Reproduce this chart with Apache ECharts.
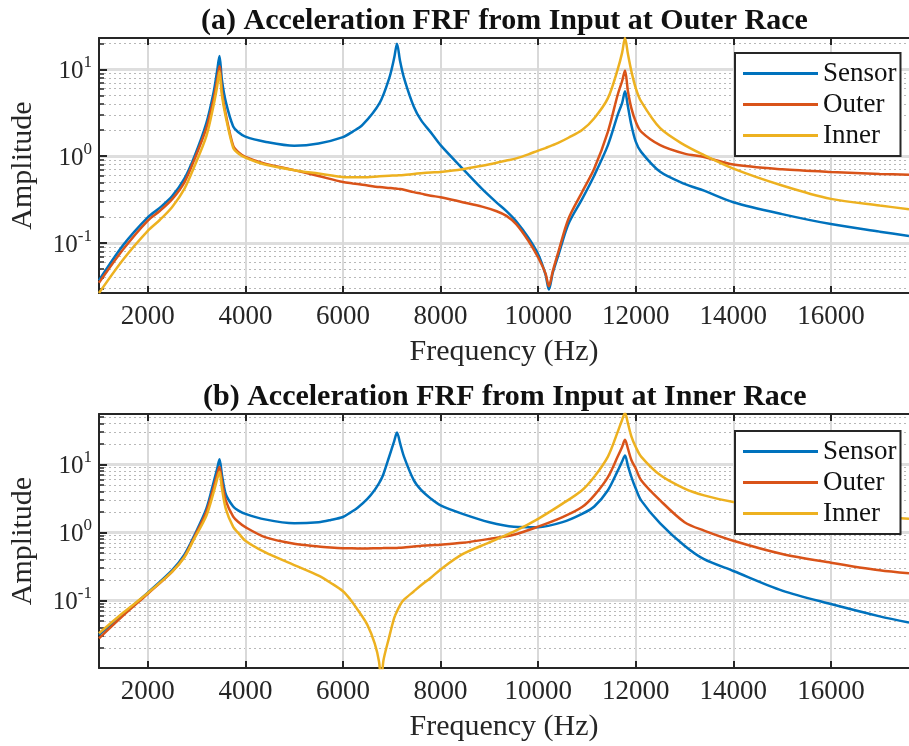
<!DOCTYPE html>
<html><head><meta charset="utf-8">
<script src="https://cdn.jsdelivr.net/npm/echarts@6/dist/echarts.min.js"></script>
<style>html,body{margin:0;padding:0;background:#fff}#c{width:909px;height:746px}</style>
</head><body><div id="c"></div>
<script>
// ---------- data (a): input at outer race ----------
const freqA = [1000,1500,2000,2250,2500,2750,2950,3200,3350,3420,3469,3520,3600,3750,3850,4000,4400,5000,5500,6000,6200,6400,6750,6950,7050,7107,7170,7250,7450,7600,7800,8000,8450,8850,9150,9350,9550,9800,10000,10150,10220,10300,10420,10620,10900,11150,11430,11630,11720,11780,11840,11910,12000,12110,12500,13000,13400,14000,15000,16000,17000,17600];
const sensorA = [0.037,0.095,0.197,0.255,0.346,0.55,0.97,2.4,5.5,9.5,14.3,7.5,4.2,2.2,1.9,1.68,1.47,1.32,1.40,1.66,1.92,2.29,4.09,8.0,13.6,19.8,12.5,8.0,3.74,2.6,1.88,1.34,0.72,0.42,0.292,0.233,0.178,0.115,0.074,0.0434,0.029,0.0454,0.074,0.165,0.32,0.60,1.34,2.99,4.09,5.59,3.74,2.29,1.47,1.12,0.66,0.48,0.40,0.295,0.215,0.165,0.135,0.12];
const outerA = [0.0347,0.085,0.181,0.235,0.32,0.50,0.90,2.1,4.6,7.5,10.9,5.5,3.0,1.32,1.12,0.98,0.82,0.69,0.59,0.503,0.485,0.469,0.44,0.43,0.425,0.421,0.418,0.41,0.385,0.37,0.35,0.337,0.295,0.262,0.232,0.205,0.165,0.106,0.068,0.0446,0.0317,0.0474,0.081,0.189,0.385,0.72,1.92,5.1,7.3,9.7,5.6,3.58,2.5,1.92,1.34,1.07,0.98,0.80,0.706,0.658,0.625,0.61];
const innerA = [0.0265,0.065,0.138,0.185,0.26,0.42,0.75,1.7,3.9,6.3,9.55,5.0,2.8,1.25,1.08,0.96,0.80,0.69,0.63,0.575,0.57,0.57,0.586,0.595,0.598,0.60,0.603,0.607,0.625,0.636,0.648,0.658,0.706,0.776,0.84,0.89,0.944,1.05,1.16,1.24,1.29,1.34,1.43,1.63,2.0,2.74,4.67,10.0,15.5,23,15,9.55,6.1,4.28,2.1,1.34,1.03,0.72,0.46,0.322,0.27,0.245];

// ---------- data (b): input at inner race ----------
const freqB = [1000,1500,2000,2500,2750,2950,3200,3350,3420,3469,3520,3600,3750,3850,4000,4400,5000,5500,5750,6000,6150,6300,6500,6650,6740,6782,6830,6940,7050,7107,7170,7250,7450,7600,7800,8000,8450,9000,9500,10000,10500,10900,11150,11430,11630,11720,11780,11840,11910,12000,12110,12500,13000,13400,14000,15000,16000,17000,17600];
const sensorB = [0.031,0.063,0.13,0.279,0.47,0.89,2.22,5.5,8.5,11.9,7.0,3.6,2.4,2.1,1.87,1.55,1.36,1.41,1.52,1.68,1.95,2.3,3.1,4.2,5.3,6.0,7.2,12.5,22,29.5,20.5,13,5.85,4.2,3.13,2.49,1.87,1.41,1.21,1.19,1.41,1.87,2.4,4.16,8.0,11,13.5,9.5,6.56,4.4,2.95,1.35,0.634,0.402,0.27,0.139,0.088,0.058,0.047];
const outerB = [0.0276,0.06,0.125,0.265,0.44,0.84,2.0,4.6,7.0,9.2,5.5,2.9,1.7,1.43,1.19,0.85,0.68,0.62,0.60,0.585,0.582,0.58,0.58,0.582,0.584,0.585,0.586,0.588,0.589,0.59,0.592,0.596,0.62,0.632,0.645,0.656,0.70,0.80,0.92,1.21,1.67,2.35,3.5,6.5,13,18,23,17,11.6,8.7,5.85,2.95,1.41,1.06,0.752,0.48,0.358,0.276,0.249];
const innerB = [0.0327,0.066,0.128,0.265,0.43,0.80,1.75,3.9,6.0,7.8,4.4,2.2,1.2,0.99,0.752,0.51,0.33,0.23,0.18,0.136,0.103,0.0727,0.0435,0.0232,0.0124,0.006,0.0131,0.0276,0.055,0.0687,0.085,0.102,0.135,0.166,0.215,0.285,0.477,0.71,1.02,1.58,2.64,4.16,6.56,13,30,45,57,40,25.8,18,13,6.95,4.4,3.5,2.79,2.2,1.9,1.68,1.58];

// ---------- ticks ----------
const xTickValues = [2000,4000,6000,8000,10000,12000,14000,16000];
const yMajorValues = [0.1,1,10];
const yMinorA = [0.03,0.04,0.05,0.06,0.07,0.08,0.09,0.2,0.3,0.4,0.5,0.6,0.7,0.8,0.9,2,3,4,5,6,7,8,9,20];
const yMinorB = [0.02,0.03,0.04,0.05,0.06,0.07,0.08,0.09,0.2,0.3,0.4,0.5,0.6,0.7,0.8,0.9,2,3,4,5,6,7,8,9,20,30,40,50];
const seriesNames = ['Sensor','Outer','Inner'];
const colors = ['#0072BD','#D95319','#EDB120'];

const FONT = '"Liberation Serif", "Times New Roman", serif';
const AX = '#262626';
const chart = echarts.init(document.getElementById('c'), null, {renderer:'canvas'});

const grids = [
  {left:99, top:38, width:818, height:255},
  {left:99, top:414, width:818, height:254}
];
const yRanges = [[0.0265, 23],[0.0101, 55]];
const minors = [yMinorA, yMinorB];

const xAxis = [], yAxis = [];
grids.forEach((g, gi) => {
  xAxis.push({
    type:'value', gridIndex:gi, min:1000, max:17600, position:'bottom',
    name:'Frequency (Hz)', nameLocation:'middle', nameGap:44,
    nameTextStyle:{fontFamily:FONT, fontSize:30, color:'#262626'},
    axisLine:{show:true, onZero:false, lineStyle:{color:AX, width:2}},
    axisTick:{show:true, inside:true, length:7, customValues:xTickValues, lineStyle:{color:AX, width:2}},
    axisLabel:{show:true, margin:10, customValues:xTickValues, formatter:(v)=>String(Math.round(v)),
      fontFamily:FONT, fontSize:27, color:'#262626'},
    splitLine:{show:true, lineStyle:{color:'#d9d9d9', width:2}}
  });
  xAxis.push({
    type:'value', gridIndex:gi, min:1000, max:17600, position:'top',
    axisLine:{show:true, onZero:false, lineStyle:{color:AX, width:2}},
    axisTick:{show:true, inside:true, length:7, customValues:xTickValues, lineStyle:{color:AX, width:2}},
    axisLabel:{show:false}, splitLine:{show:false}
  });
  yAxis.push({
    type:'log', logBase:10, gridIndex:gi, min:yRanges[gi][0], max:yRanges[gi][1], position:'left',
    name:'Amplitude', nameLocation:'middle', nameGap:61, nameRotate:90,
    nameTextStyle:{fontFamily:FONT, fontSize:30, color:'#262626'},
    axisLine:{show:true, onZero:false, lineStyle:{color:AX, width:2}},
    axisTick:{show:true, inside:true, length:8, customValues:yMajorValues, lineStyle:{color:AX, width:2}},
    axisLabel:{show:true, margin:7, customValues:yMajorValues,
      formatter:(v)=>{const e=Math.round(Math.log10(v)); return '{b|10}{s|'+e+'}';},
      rich:{b:{fontFamily:FONT, fontSize:25, color:'#262626', lineHeight:30, verticalAlign:'bottom'},
            s:{fontFamily:FONT, fontSize:17, color:'#262626', lineHeight:30, verticalAlign:'top'}}},
    splitLine:{show:true, lineStyle:{color:'#dedede', width:3}}
  });
  yAxis.push({
    type:'log', logBase:10, gridIndex:gi, min:yRanges[gi][0], max:yRanges[gi][1], position:'left',
    axisLine:{show:false},
    axisTick:{show:true, inside:true, length:5, customValues:minors[gi], lineStyle:{color:AX, width:1.5}},
    axisLabel:{show:false},
    splitLine:{show:true, lineStyle:{color:'#b8b8b8', width:1.2, type:[2,3]}}
  });
});

const dataSets = [[freqA,[sensorA,outerA,innerA]],[freqB,[sensorB,outerB,innerB]]];
const series = [];
dataSets.forEach(([fr, vals], gi) => {
  vals.forEach((arr, si) => {
    series.push({
      type:'line', name:seriesNames[si], xAxisIndex:gi*2, yAxisIndex:gi*2,
      data: fr.map((f,i)=>[f, arr[i]]),
      showSymbol:false, smooth:0.3, clip:true,
      lineStyle:{color:colors[si], width:2.5}, itemStyle:{color:colors[si]},
      z: 3
    });
  });
});

const legendBase = (top) => ({
  top, left:735, orient:'vertical', icon:'rect', itemWidth:75, itemHeight:3, itemGap:4,
  padding:[7,4,7,8], borderColor:AX, borderWidth:2, backgroundColor:'#fff',
  textStyle:{fontFamily:FONT, fontSize:27, color:'#111', lineHeight:27},
  data:seriesNames, selectedMode:false
});

chart.setOption({
  animation:false,
  backgroundColor:'#fff',
  title:[
    {text:'(a) Acceleration FRF from Input at Outer Race', left:201, top:6, padding:0,
     textStyle:{fontFamily:FONT, fontSize:30, fontWeight:'bold', color:'#111'}},
    {text:'(b) Acceleration FRF from Input at Inner Race', left:203, top:382, padding:0,
     textStyle:{fontFamily:FONT, fontSize:30, fontWeight:'bold', color:'#111'}}
  ],
  grid: grids,
  xAxis, yAxis, series,
  legend:[legendBase(53), legendBase(431)]
});
</script></body></html>
